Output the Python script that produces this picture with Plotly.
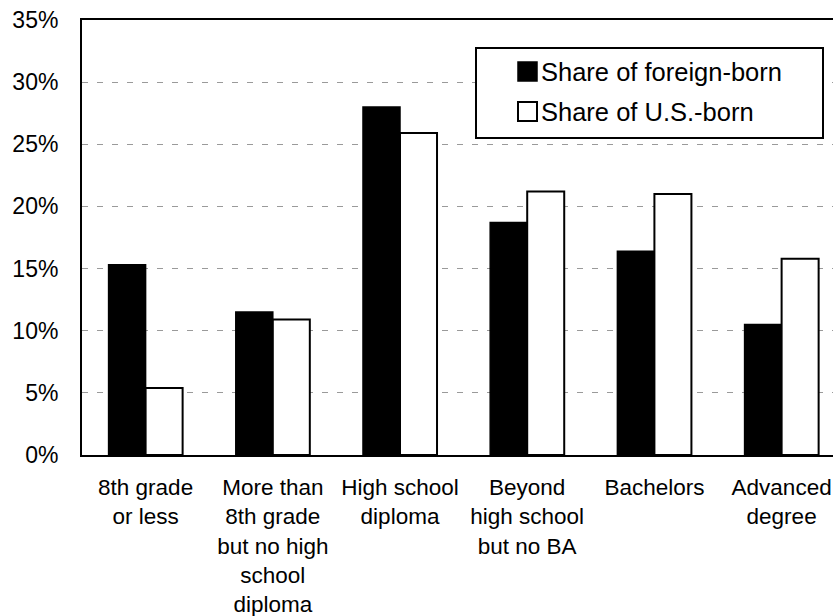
import plotly.graph_objects as go

categories = ["8th grade<br>or less",
              "More than<br>8th grade<br>but no high<br>school<br>diploma",
              "High school<br>diploma",
              "Beyond<br>high school<br>but no BA",
              "Bachelors",
              "Advanced<br>degree"]
foreign_born = [15.3, 11.5, 28.0, 18.7, 16.4, 10.5]
us_born = [5.4, 10.9, 25.9, 21.2, 21.0, 15.8]
series_names = ["Share of foreign-born", "Share of U.S.-born"]
y_ticks = [0, 5, 10, 15, 20, 25, 30, 35]
y_tick_labels = [f"{v}%" for v in y_ticks]

W, H = 833, 616
L, T = 82, 20
BOTTOM_PX = 455
B = H - BOTTOM_PX
plot_w = W - L
plot_h = H - T - B
FONT = "Liberation Sans, Arial, Helvetica, sans-serif"

fig = go.Figure()
fig.add_trace(go.Bar(x=categories, y=foreign_born, name=series_names[0],
                     marker=dict(color="black", line=dict(color="black", width=1.5))))
fig.add_trace(go.Bar(x=categories, y=us_born, name=series_names[1],
                     marker=dict(color="white", line=dict(color="black", width=2))))

def px_x(p):
    return (p - L) / plot_w

def px_y(p):
    return (BOTTOM_PX - p) / plot_h

shapes = [
    dict(type="rect", xref="paper", yref="paper",
         x0=px_x(476), x1=px_x(823), y0=px_y(138), y1=px_y(48),
         line=dict(color="black", width=2), fillcolor="white", layer="above"),
    dict(type="rect", xref="paper", yref="paper",
         x0=px_x(518), x1=px_x(537), y0=px_y(81), y1=px_y(62),
         line=dict(color="black", width=1.5), fillcolor="black", layer="above"),
    dict(type="rect", xref="paper", yref="paper",
         x0=px_x(518), x1=px_x(537), y0=px_y(121), y1=px_y(102),
         line=dict(color="black", width=2), fillcolor="white", layer="above"),
]
annotations = [
    dict(xref="paper", yref="paper", x=px_x(539), y=px_y(72), text=series_names[0],
         showarrow=False, xanchor="left", yanchor="middle",
         font=dict(family=FONT, size=25.5, color="black")),
    dict(xref="paper", yref="paper", x=px_x(539), y=px_y(112), text=series_names[1],
         showarrow=False, xanchor="left", yanchor="middle",
         font=dict(family=FONT, size=25.5, color="black")),
]

fig.update_layout(
    width=W, height=H,
    margin=dict(l=L, r=0, t=T, b=B, autoexpand=False),
    paper_bgcolor="white", plot_bgcolor="white",
    barmode="group", bargap=0.418, bargroupgap=0,
    showlegend=False,
    font=dict(family=FONT, size=22, color="black"),
    shapes=shapes, annotations=annotations,
    xaxis=dict(range=[-0.5, 5.404], showline=True, linecolor="black", linewidth=2,
               mirror=True, showgrid=False, ticks="", tickangle=0, automargin=False,
               tickfont=dict(size=22.5), ticklabelstandoff=11, fixedrange=True,
               ticklabeloverflow="allow"),
    yaxis=dict(range=[0, 35], tickvals=y_ticks, ticktext=y_tick_labels,
               showline=True, linecolor="black", linewidth=2, automargin=False,
               showgrid=True, gridcolor="#9a9a9a", gridwidth=1, griddash="6px,9px",
               zeroline=False, ticks="", tickfont=dict(size=23),
               ticklabelstandoff=17, ticklabeloverflow="allow"),
)

fig.write_html(
    "out.html",
    config={"displayModeBar": False},
    post_script="document.body.style.margin='0';document.body.style.overflow='hidden';",
)
